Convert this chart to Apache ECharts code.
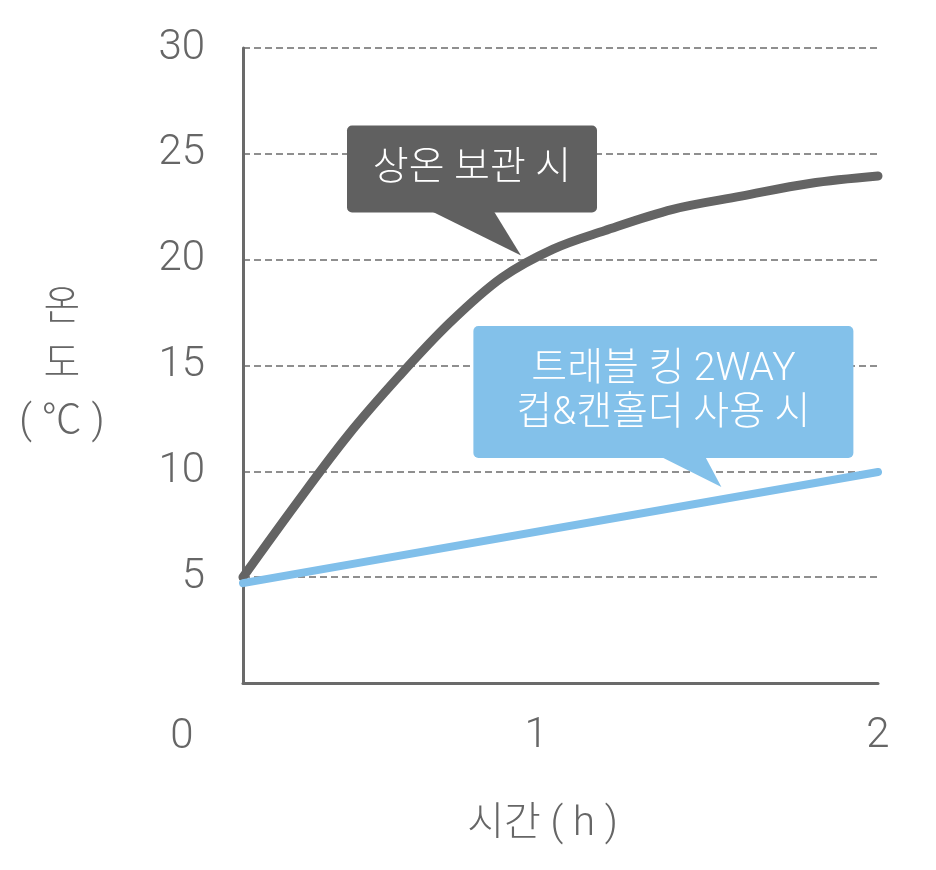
<!DOCTYPE html>
<html>
<head>
<meta charset="utf-8">
<script src="https://cdn.jsdelivr.net/npm/echarts@6/dist/echarts.min.js"></script>
<style>
  html, body { margin: 0; padding: 0; background: #fff; }
  #chart { width: 936px; height: 870px; }
</style>
</head>
<body>
<div id="chart"></div>
<script>
// data
var timeHours = [0.143, 0.3, 0.45, 0.6, 0.75, 0.9, 1.05, 1.2, 1.4, 1.6, 1.8, 2.0];
var roomTemp  = [5.0, 8.5, 11.7, 14.5, 17.05, 19.15, 20.5, 21.37, 22.38, 23.0, 23.6, 23.95];
var holderTime = [0.143, 2.0];
var holderTemp = [4.72, 9.97];
var yTicks = [5, 10, 15, 20, 25, 30];
var xTicks = [1, 2];
var roomLabel = '상온 보관 시';
var holderLabel = '트래블 킹 2WAY\n컵&캔홀더 사용 시';
var roomAnchor = [0.956, 20.2];
var holderAnchor = [1.542, 9.26];

var FONT = 'Roboto, "Noto Sans CJK KR", sans-serif';
var DARK = '#646464';
var BLUE = '#80bfea';

function pairs(xs, ys) {
	var out = [];
	for (var i = 0; i < xs.length; i++) out.push([xs[i], ys[i]]);
	return out;
}

var myChart = echarts.init(document.getElementById('chart'));
var option = {
	animation: false,
	grid: { left: 243, top: 48, right: 58, bottom: 187 },
	xAxis: {
		type: 'value',
		min: 0.143,
		max: 2,
		name: '시간 ( h )',
		nameLocation: 'middle',
		nameGap: 122,
		nameTextStyle: { fontFamily: FONT, fontSize: 40, fontWeight: 300, color: '#666', padding: [0, 36, 0, 0] },
		axisLine: { show: true, lineStyle: { color: '#6a6a6a', width: 3 } },
		axisTick: { show: false },
		splitLine: { show: false },
		axisLabel: {
			customValues: xTicks,
			margin: 32,
			fontFamily: FONT,
			fontSize: 42,
			fontWeight: 300,
			color: '#666'
		}
	},
	yAxis: {
		type: 'value',
		min: 0,
		max: 30,
		interval: 5,
		name: '온\n도\n( ℃ )',
		nameLocation: 'middle',
		nameRotate: 0,
		nameGap: 181,
		nameTextStyle: { fontFamily: FONT, fontSize: 40, fontWeight: 300, color: '#666', lineHeight: 57, align: 'center' },
		axisLine: { show: true, lineStyle: { color: '#6a6a6a', width: 3 } },
		axisTick: { show: false },
		splitLine: { show: true, lineStyle: { color: '#8f8f8f', width: 2, type: [7, 4] } },
		axisLabel: {
			margin: 38,
			fontFamily: FONT,
			fontSize: 42,
			fontWeight: 300,
			color: '#666',
			formatter: function(v) { return yTicks.indexOf(v) >= 0 ? String(v) : ''; }
		}
	},
	series: [{
		name: roomLabel,
		type: 'line',
		data: pairs(timeHours, roomTemp),
		smooth: 0.35,
		symbol: 'none',
		lineStyle: { color: DARK, width: 9, cap: 'round' },
		z: 3
	}, {
		name: holderLabel,
		type: 'line',
		data: pairs(holderTime, holderTemp),
		symbol: 'none',
		lineStyle: { color: BLUE, width: 8, cap: 'round' },
		z: 4
	}]
};
myChart.setOption(option);

// callout boxes pointing at the curves
function callout(anchor, text, color, box, tail, lineH) {
	var p = myChart.convertToPixel({ gridIndex: 0 }, anchor);
	return {
		type: 'group',
		x: p[0],
		y: p[1],
		z: 10,
		children: [{
			type: 'rect',
			shape: { x: box[0], y: box[1], width: box[2] - box[0], height: box[3] - box[1], r: 5 },
			style: { fill: color }
		}, {
			type: 'polygon',
			shape: { points: [[tail[0], box[3] - 1], [tail[1], box[3] - 1], [0, 0]] },
			style: { fill: color }
		}, {
			type: 'text',
			x: (box[0] + box[2]) / 2,
			y: (box[1] + box[3]) / 2,
			style: {
				text: text,
				fill: '#fff',
				fontFamily: FONT,
				fontSize: 39,
				fontWeight: 300,
				lineHeight: lineH,
				align: 'center',
				verticalAlign: 'middle'
			}
		}]
	};
}

myChart.setOption({
	graphic: [
		{
			type: 'text',
			x: 182,
			y: 737,
			style: { text: '0', fontFamily: FONT, fontSize: 42, fontWeight: 300, fill: '#666', align: 'center', verticalAlign: 'middle' }
		},
		callout(roomAnchor, roomLabel, '#606060', [-174, -130, 76, -43], [-89, -27], 46),
		callout(holderAnchor, holderLabel, '#83c1ea', [-248, -161, 132, -29], [-60, -16], 44)
	]
});
</script>
</body>
</html>
